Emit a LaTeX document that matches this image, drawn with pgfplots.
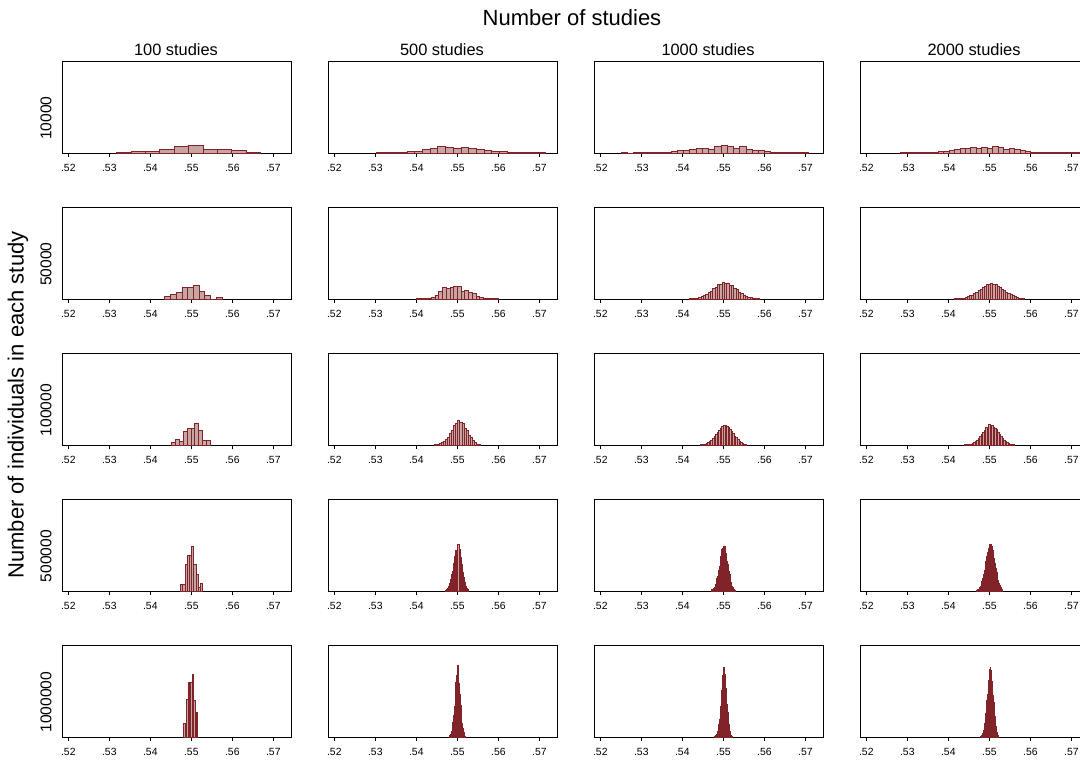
\documentclass[border=0pt]{standalone}
\usepackage{fontspec}
\setmainfont{Liberation Sans}
\usepackage{pgfplots}
\pgfplotsset{compat=1.18}
\definecolor{histfill}{RGB}{198,166,162}
\definecolor{histedge}{RGB}{128,36,42}
\pgfplotsset{
  panel/.style={
    scale only axis, width=114.5pt, height=46pt,
    xmin=0.51846, xmax=0.57431, ymin=0, ymax=92,
    anchor=north west,
    ytick=\empty,
    xtick={0.52,0.53,0.54,0.55,0.56,0.57},
    xticklabels={.52,.53,.54,.55,.56,.57},
    xtick pos=bottom, tick align=outside, major tick length=2pt,
    tick style={black, line width=0.5pt},
    axis line style={black, line width=0.5pt},
    xticklabel style={font=\fontsize{5.2}{6}\selectfont, inner sep=1pt, yshift=-2.5pt},
    clip=true,
  },
  hist/.style={ybar interval, fill=histfill, draw=histedge, line width=0.38pt},
}
\newcommand{\panel}[3]{\begin{axis}[panel, at={(#1pt,#2pt)}]\addplot[hist] coordinates {#3};\end{axis}}
\begin{document}
\begin{tikzpicture}
\useasboundingbox (0pt,0pt) rectangle (540pt,-381pt);
% ---- row 1 : 10000
\panel{31}{-30.5}{(.5318,1) (.53531,1.3) (.53882,1.3) (.54233,4) (.54584,6.7) (.54935,8) (.55286,4) (.55637,4) (.55988,2.3) (.56339,1) (.5669,0)}
\panel{164}{-30.5}{(.5302,0.5) (.53208,0.5) (.53396,0.7) (.53584,1) (.53772,1.7) (.5396,2) (.54148,3.7) (.54336,4.7) (.54524,6.7) (.54712,5.7) (.549,4.7) (.55088,6) (.55276,4.7) (.55464,4) (.55652,3) (.5584,2) (.56028,2) (.56216,0.7) (.56404,0.5) (.56592,0.5) (.5678,0.5) (.56968,0.5) (.57156,0)}
\panel{297}{-30.5}{(.5251,0.7) (.52662,0) (.52814,0.5) (.52966,0.5) (.53118,0.5) (.5327,0.7) (.53422,0.7) (.53574,1) (.53726,1.7) (.53878,2.3) (.5403,3) (.54182,3.7) (.54334,4.3) (.54486,4.3) (.54638,3.7) (.5479,6.7) (.54942,7.3) (.55094,7) (.55246,5) (.55398,6.3) (.5555,3.7) (.55702,3) (.55854,2.3) (.56006,1.7) (.56158,1) (.5631,0.5) (.56462,0.5) (.56614,0.5) (.56766,0.5) (.56918,0.5) (.5707,0)}
\panel{430}{-30.5}{(.5282,0.5) (.52953,0.5) (.53086,0.5) (.53219,0.5) (.53352,0.7) (.53485,0.7) (.53618,1) (.53751,1.3) (.53884,2) (.54017,2.7) (.5415,3.3) (.54283,4.3) (.54416,4.3) (.54549,5.7) (.54682,5) (.54815,5.7) (.54948,4.7) (.55081,6.7) (.55214,5.7) (.55347,4) (.5548,4.7) (.55613,3.7) (.55746,2.7) (.55879,2) (.56012,1) (.56145,0.7) (.56278,0.5) (.56411,0.5) (.56544,0.5) (.56677,0.5) (.5681,0.5) (.56943,0.5) (.57076,0.5) (.57209,0)}
% ---- row 2 : 50000
\panel{31}{-103.5}{(.5435,2.3) (.5449,5) (.5463,6.3) (.5477,11.3) (.5491,12) (.5505,13.7) (.5519,7.3) (.5533,4) (.5547,0) (.5561,1.3) (.5575,0)}
\panel{164}{-103.5}{(.54,0.5) (.54091,0.5) (.54182,0.7) (.54273,1) (.54364,2) (.54455,4) (.54546,8) (.54637,12) (.54728,10.3) (.54819,11.3) (.5491,12.3) (.55001,13) (.55092,8) (.55183,8.7) (.55274,6.7) (.55365,6) (.55456,2.7) (.55547,1.3) (.55638,0.7) (.55729,0.5) (.5582,0.5) (.55911,0.5) (.56002,0)}
\panel{297}{-103.5}{(.5417,0.3) (.54227,0.5) (.54284,0.5) (.54341,1) (.54398,1.7) (.54455,2.2) (.54512,3.8) (.54569,4.5) (.54626,6.8) (.54683,7.9) (.5474,10.8) (.54797,11.5) (.54854,14.2) (.54911,14.3) (.54968,16.5) (.55025,15.4) (.55082,16.1) (.55139,13.6) (.55196,13.4) (.55253,10.5) (.5531,9.8) (.55367,6.9) (.55424,5.9) (.55481,3.8) (.55538,3.1) (.55595,1.7) (.55652,1.4) (.55709,0.7) (.55766,0.5) (.55823,0.3) (.5588,0)}
\panel{430}{-103.5}{(.5415,0.2) (.54202,0.3) (.54254,0.5) (.54306,0.8) (.54358,1) (.5441,1.7) (.54462,2.2) (.54514,3.3) (.54566,4.1) (.54618,5.8) (.5467,6.8) (.54722,8.7) (.54774,9.7) (.54826,11.8) (.54878,12.5) (.5493,14.2) (.54982,14.5) (.55034,15.2) (.55086,14.3) (.55138,14.2) (.5519,12.6) (.55242,11.9) (.55294,9.9) (.55346,8.8) (.55398,6.9) (.5545,5.8) (.55502,4.2) (.55554,3.3) (.55606,2.2) (.55658,1.6) (.5571,0.9) (.55762,0.6) (.55814,0.3) (.55866,0)}
% ---- row 3 : 100000
\panel{31}{-176.5}{(.5451,2.3) (.54606,5.7) (.54702,4) (.54798,13.7) (.54894,16.3) (.5499,16.3) (.55086,22) (.55182,15) (.55278,4.3) (.55374,4.3) (.5547,0)}
\panel{164}{-176.5}{(.5445,0.3) (.54501,0.6) (.54552,1.2) (.54603,2.3) (.54654,3.3) (.54705,6) (.54756,8) (.54807,12) (.54858,15) (.54909,19.5) (.5496,22) (.55011,24.5) (.55062,22.5) (.55113,21.5) (.55164,17) (.55215,14.5) (.55266,9.5) (.55317,7.3) (.55368,4.2) (.55419,2.8) (.5547,1.1) (.55521,0.6) (.55572,0)}
\panel{297}{-176.5}{(.5443,0.3) (.54468,0.4) (.54506,0.6) (.54544,1) (.54582,1.6) (.5462,2.4) (.54658,3.5) (.54696,5) (.54734,6.6) (.54772,8.7) (.5481,10.6) (.54848,12.9) (.54886,14.9) (.54924,17.1) (.54962,18.2) (.55,19.6) (.55038,19.8) (.55076,19.1) (.55114,17.6) (.55152,16) (.5519,13.5) (.55228,11.5) (.55266,9) (.55304,7.2) (.55342,5.2) (.5538,3.8) (.55418,2.5) (.55456,1.5) (.55494,0.9) (.55532,0.5) (.5557,0)}
\panel{430}{-176.5}{(.544,0.2) (.544364,0.3) (.544728,0.4) (.545092,0.7) (.545456,1.1) (.54582,1.7) (.546184,2.6) (.546548,3.7) (.546912,5.1) (.547276,6.7) (.54764,8.6) (.548004,10.6) (.548368,12.7) (.548732,15) (.549096,17.5) (.54946,17.9) (.549824,20.4) (.550188,19.2) (.550552,19.9) (.550916,17.6) (.55128,16.8) (.551644,15.5) (.552008,12.3) (.552372,10.5) (.552736,8.5) (.5531,6.6) (.553464,5) (.553828,3.6) (.554192,2.5) (.554556,1.7) (.55492,1) (.555284,0.6) (.555648,0.3) (.556012,0)}
% ---- row 4 : 500000
\panel{31}{-249.5}{(.5474,7) (.54793,7) (.54846,27) (.54899,36) (.54952,36) (.55005,45) (.55058,26.7) (.55111,16.7) (.55164,4) (.55217,7.3) (.5527,0)}
\panel{164}{-249.5}{(.547,1) (.54726,1.5) (.54752,3) (.54778,5) (.54804,8) (.5483,12) (.54856,17) (.54882,20) (.54908,28) (.54934,35) (.5496,41) (.54986,37) (.55012,47) (.55038,42) (.55064,34) (.5509,27) (.55116,19) (.55142,14) (.55168,9) (.55194,5) (.5522,2.5) (.55246,1.5) (.55272,0)}
\panel{297}{-249.5}{(.547,0.5) (.5472,1.2) (.5474,1.4) (.5476,2.9) (.5478,3.8) (.548,6.5) (.5482,8.1) (.5484,12.2) (.5486,14.8) (.5488,21) (.549,24.2) (.5492,31.5) (.5494,34.5) (.5496,41.2) (.5498,42.5) (.55,45) (.5502,44.5) (.5504,39.6) (.5506,37.2) (.5508,30.1) (.551,26.4) (.5512,19.6) (.5514,16.3) (.5516,10.8) (.5518,8.5) (.552,5.1) (.5522,3.8) (.5524,2) (.5526,1.4) (.5528,0.6) (.553,0)}
\panel{430}{-249.5}{(.5468,0.5) (.546994,0.8) (.547188,1.3) (.547382,2.1) (.547576,3.2) (.54777,4.8) (.547964,6.8) (.548158,9.4) (.548352,12.6) (.548546,16.3) (.54874,20.5) (.548934,25) (.549128,29.7) (.549322,34.4) (.549516,38.8) (.54971,42.5) (.549904,45.5) (.550098,47) (.550292,46.8) (.550486,44.5) (.55068,41) (.550874,37) (.551068,32.5) (.551262,27.7) (.551456,23) (.55165,18.5) (.551844,14.4) (.552038,10.8) (.552232,7.8) (.552426,5.4) (.55262,3.6) (.552814,2.3) (.553008,1.4) (.553202,0)}
% ---- row 5 : 1000000
\panel{31}{-322.5}{(.54814,13.7) (.548483,7) (.548826,37.7) (.549169,55) (.549512,37.7) (.549855,55) (.550198,62.7) (.550541,37) (.550884,24.3) (.551227,24.3) (.55157,0)}
\panel{164}{-322.5}{(.548,0.7) (.548182,1.5) (.548364,3) (.548546,5.5) (.548728,9) (.54891,15) (.549092,22) (.549274,31) (.549456,42) (.549638,55) (.54982,62) (.550002,72) (.550184,60) (.550366,54) (.550548,43) (.55073,32) (.550912,22) (.551094,14) (.551276,8.5) (.551458,4.5) (.55164,2) (.551822,1) (.552004,0)}
\panel{297}{-322.5}{(.5479,0.5) (.54804,0.8) (.54818,1.5) (.54832,2.5) (.54846,4) (.5486,6) (.54874,9) (.54888,13) (.54902,18) (.54916,24) (.5493,31) (.54944,39) (.54958,47) (.54972,55) (.54986,62) (.55,70) (.55014,66) (.55028,63) (.55042,56) (.55056,49) (.5507,41) (.55084,33) (.55098,25) (.55112,18.5) (.55126,13) (.5514,8.5) (.55154,5.5) (.55168,3.5) (.55182,2) (.55196,1) (.5521,0)}
\panel{430}{-322.5}{(.5478,0.4) (.547933,0.7) (.548066,1.2) (.548199,2) (.548332,3.2) (.548465,4.8) (.548598,7) (.548731,10) (.548864,13.8) (.548997,18.5) (.54913,24) (.549263,30) (.549396,36.5) (.549529,43) (.549662,50) (.549795,57) (.549928,63) (.550061,68) (.550194,70) (.550327,67) (.55046,62) (.550593,55.5) (.550726,48.5) (.550859,41.5) (.550992,34.5) (.551125,27.5) (.551258,21) (.551391,15.5) (.551524,11) (.551657,7.5) (.55179,5) (.551923,3) (.552056,1.8) (.552189,0)}
% ---- titles
\node[font=\fontsize{11}{13}\selectfont] at (286pt,-9pt) {Number of studies};
\node[font=\fontsize{8.2}{10}\selectfont] at (88pt,-25pt) {100 studies};
\node[font=\fontsize{8.2}{10}\selectfont] at (221pt,-25pt) {500 studies};
\node[font=\fontsize{8.2}{10}\selectfont] at (354pt,-25pt) {1000 studies};
\node[font=\fontsize{8.2}{10}\selectfont] at (487pt,-25pt) {2000 studies};
\node[font=\fontsize{11}{13}\selectfont, rotate=90] at (9pt,-202.5pt) {Number of individuals in each study};
\node[font=\fontsize{7.8}{9}\selectfont, rotate=90] at (23pt,-59pt) {10000};
\node[font=\fontsize{7.8}{9}\selectfont, rotate=90] at (23pt,-132pt) {50000};
\node[font=\fontsize{7.8}{9}\selectfont, rotate=90] at (23pt,-205pt) {100000};
\node[font=\fontsize{7.8}{9}\selectfont, rotate=90] at (23pt,-278pt) {500000};
\node[font=\fontsize{7.8}{9}\selectfont, rotate=90] at (23pt,-351pt) {1000000};
\end{tikzpicture}
\end{document}
